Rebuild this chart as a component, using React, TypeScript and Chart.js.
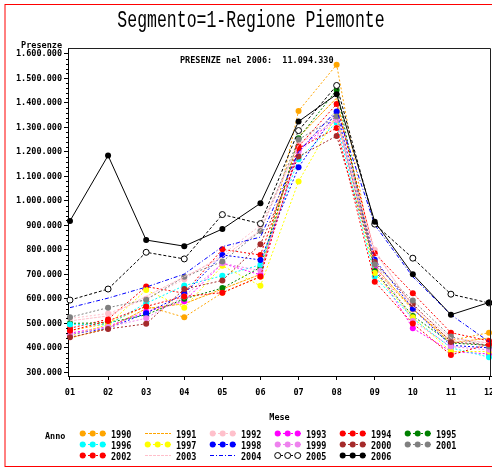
import React, { useEffect, useRef } from 'react';
import { Chart, registerables } from 'chart.js';

Chart.register(...registerables);

// ---------- data ----------
const TITLE = 'Segmento=1-Regione Piemonte';
const NOTE = 'PRESENZE nel 2006:  11.094.330';
const Y_TITLE = 'Presenze';
const X_TITLE = 'Mese';
const LEGEND_TITLE = 'Anno';

const monthNums = [1, 2, 3, 4, 5, 6, 7, 8, 9, 10, 11, 12];
const monthLabels = ['01', '02', '03', '04', '05', '06', '07', '08', '09', '10', '11', '12'];
const yTickValues = [300000, 400000, 500000, 600000, 700000, 800000, 900000, 1000000, 1100000, 1200000, 1300000, 1400000, 1500000, 1600000];

const years = ['1990', '1991', '1992', '1993', '1994', '1995', '1996', '1997', '1998', '1999', '2000', '2001', '2002', '2003', '2004', '2005', '2006'];

const s1990 = [470000, 500000, 570000, 525000, 625000, 690000, 1367000, 1556000, 720000, 556000, 430000, 462000];
const s1991 = [440000, 480000, 560000, 580000, 640000, 700000, 1260000, 1420000, 730000, 560000, 420000, 440000];
const s1992 = [520000, 540000, 600000, 680000, 780000, 900000, 1230000, 1360000, 800000, 560000, 430000, 420000];
const s1993 = [460000, 487000, 548000, 590000, 745000, 698000, 1208000, 1340000, 730000, 480000, 385000, 375000];
const s1994 = [480000, 517000, 650000, 623000, 802000, 779000, 1222000, 1395000, 786000, 623000, 462000, 428000];
const s1995 = [500000, 502000, 535000, 600000, 644000, 728000, 1256000, 1453000, 714000, 530000, 420000, 410000];
const s1996 = [495000, 494000, 582000, 654000, 694000, 739000, 1170000, 1320000, 691000, 520000, 400000, 362000];
const s1997 = [450000, 495000, 636000, 564000, 735000, 653000, 1079000, 1350000, 705000, 525000, 385000, 385000];
const s1998 = [455000, 480000, 541000, 620000, 779000, 759000, 1137000, 1365000, 760000, 560000, 410000, 400000];
const s1999 = [455000, 485000, 521000, 610000, 745000, 715000, 1200000, 1330000, 748000, 510000, 405000, 392000];
const s2000 = [443000, 477000, 498000, 640000, 675000, 823000, 1181000, 1265000, 750000, 579000, 424000, 412000];
const s2001 = [525000, 564000, 596000, 690000, 752000, 877000, 1250000, 1344000, 740000, 593000, 446000, 405000];
const s2002 = [470000, 510000, 569000, 610000, 625000, 691000, 1215000, 1297000, 670000, 499000, 371000, 415000];
const s2003 = [510000, 530000, 610000, 690000, 770000, 880000, 1230000, 1330000, 790000, 570000, 440000, 420000];
const s2004 = [564000, 603000, 648000, 701000, 813000, 852000, 1200000, 1370000, 902000, 690000, 535000, 425000];
const s2005 = [595000, 640000, 790000, 763000, 944000, 907000, 1287000, 1471000, 905000, 766000, 619000, 583000];
const s2006 = [918000, 1185000, 840000, 815000, 885000, 990000, 1324000, 1435000, 915000, 700000, 535000, 585000];

const seriesValues = [s1990, s1991, s1992, s1993, s1994, s1995, s1996, s1997, s1998, s1999, s2000, s2001, s2002, s2003, s2004, s2005, s2006];

// ---------- styles ----------
const seriesColors = ['#ffa500', '#ffa500', '#ffc0cb', '#ff00ff', '#ff0000', '#008000', '#00ffff', '#ffff00', '#0000ff', '#ee82ee', '#a52a2a', '#808080', '#ff0000', '#ffc0cb', '#0000ff', '#000000', '#000000'];
const seriesMarker = [true, false, true, true, true, true, true, true, true, true, true, true, true, false, false, true, true];
const seriesDash: number[][] = [[2, 2], [3, 1], [2, 2], [2, 2], [2, 2], [2, 2], [2, 2], [2, 2], [2, 2], [2, 2], [2, 2], [2, 2], [2, 2], [3, 1], [4, 2, 1, 2], [3, 2], []];

const MONO = '"DejaVu Sans Mono", "Liberation Mono", monospace';
const TITLE_FONT = '"Liberation Mono", "DejaVu Sans Mono", monospace';

const fmt = (v: number) => String(Math.round(v)).replace(/\B(?=(\d{3})+(?!\d))/g, '.');

const decorPlugin = {
  id: 'sasDecor',
  afterDraw(chart: any) {
    const ctx = chart.ctx as CanvasRenderingContext2D;
    const { left, top, right, bottom } = chart.chartArea;
    const yScale = chart.scales.y;
    ctx.save();

    // outer red border
    ctx.strokeStyle = '#ff0000';
    ctx.lineWidth = 1;
    ctx.beginPath();
    ctx.moveTo(5, 4.5);
    ctx.lineTo(chart.width, 4.5);
    ctx.moveTo(5, 466.5);
    ctx.lineTo(chart.width, 466.5);
    ctx.stroke();
    ctx.beginPath();
    ctx.moveTo(5, 4);
    ctx.lineTo(5, 467);
    ctx.stroke();

    // frame top/right
    ctx.strokeStyle = '#202020';
    ctx.beginPath();
    ctx.moveTo(left, top + 0.5);
    ctx.lineTo(right - 0.5, top + 0.5);
    ctx.lineTo(right - 0.5, bottom);
    ctx.stroke();

    // minor y ticks
    ctx.strokeStyle = '#000';
    ctx.beginPath();
    for (let v = yTickValues[0]; v <= yTickValues[yTickValues.length - 1]; v += 20000) {
      if (v % 100000 === 0) continue;
      const py = Math.round(yScale.getPixelForValue(v)) + 0.5;
      ctx.moveTo(left - 2, py);
      ctx.lineTo(left, py);
    }
    ctx.stroke();

    ctx.fillStyle = '#000';
    // title
    ctx.font = `16.5px ${TITLE_FONT}`;
    ctx.textAlign = 'center';
    ctx.textBaseline = 'alphabetic';
    ctx.save();
    ctx.translate(251, 27);
    ctx.scale(1, 1.4);
    ctx.fillText(TITLE, 0, 0);
    ctx.restore();

    // note
    ctx.font = `bold 8.5px ${MONO}`;
    ctx.textAlign = 'left';
    ctx.fillText(NOTE, 180, 63);

    // axis titles
    ctx.textAlign = 'right';
    ctx.fillText(Y_TITLE, 62, 48);
    ctx.textAlign = 'center';
    ctx.fillText(X_TITLE, (left + right) / 2, 420);

    // legend
    ctx.textAlign = 'left';
    ctx.fillText(LEGEND_TITLE, 45, 438.5);
    const colX = [80, 145, 210, 275, 340, 405];
    const rowY = [433.5, 444.5, 455.5];
    chart.data.datasets.forEach((ds: any, i: number) => {
      const c = i % 6;
      const r = Math.floor(i / 6);
      const x0 = colX[c];
      const y = rowY[r];
      ctx.save();
      ctx.strokeStyle = seriesColors[i];
      ctx.lineWidth = 1;
      ctx.setLineDash(seriesDash[i]);
      ctx.beginPath();
      ctx.moveTo(x0, y);
      ctx.lineTo(x0 + 26, y);
      ctx.stroke();
      ctx.setLineDash([]);
      if (seriesMarker[i]) {
        [2.7, 12.7, 22.7].forEach((dx) => {
          ctx.beginPath();
          ctx.arc(x0 + dx, y, 3, 0, Math.PI * 2);
          if (years[i] === '2005') {
            ctx.fillStyle = '#fff';
            ctx.fill();
            ctx.strokeStyle = '#000';
            ctx.stroke();
          } else {
            ctx.fillStyle = seriesColors[i];
            ctx.fill();
          }
        });
      }
      ctx.restore();
      ctx.save();
      ctx.fillStyle = '#000';
      ctx.font = `bold 8.5px ${MONO}`;
      ctx.translate(x0 + 31, y + 4.5);
      ctx.scale(1, 1.2);
      ctx.fillText(ds.label, 0, 0);
      ctx.restore();
    });

    ctx.restore();
  },
};

export default function App() {
  const ref = useRef<HTMLCanvasElement | null>(null);

  useEffect(() => {
    document.body.style.margin = '0';
    document.body.style.overflow = 'hidden';
    const canvas = ref.current;
    if (!canvas) return;

    const datasets = seriesValues.map((vals, i) => ({
      label: years[i],
      data: vals.map((v, k) => ({ x: monthNums[k], y: v })),
      borderColor: seriesColors[i],
      backgroundColor: seriesColors[i],
      borderWidth: 1,
      borderDash: seriesDash[i],
      pointRadius: seriesMarker[i] ? 3 : 0,
      pointHoverRadius: 0,
      pointStyle: 'circle',
      pointBackgroundColor: years[i] === '2005' ? '#ffffff' : seriesColors[i],
      pointBorderColor: seriesColors[i],
      pointBorderWidth: years[i] === '2005' ? 1 : 0,
      tension: 0,
      clip: false as any,
      order: seriesValues.length - i,
    }));

    const tickFont = { family: MONO, size: 8.5, weight: 'bold' as const };

    const chart = new Chart(canvas, {
      type: 'line',
      data: { datasets },
      plugins: [decorPlugin],
      options: {
        animation: false,
        responsive: false,
        events: [],
        layout: { padding: { left: 8, top: 48, right: 11, bottom: 0 } },
        plugins: { legend: { display: false }, title: { display: false }, tooltip: { enabled: false } },
        scales: {
          x: {
            type: 'linear',
            min: 0.948,
            max: 12.052,
            afterBuildTicks: (s: any) => {
              s.ticks = monthNums.map((v) => ({ value: v }));
            },
            afterFit: (s: any) => {
              s.paddingLeft = 0;
              s.paddingRight = 0;
              s.height = 94;
            },
            ticks: {
              callback: (v: any) => monthLabels[Number(v) - 1],
              font: tickFont,
              color: '#000',
              padding: 8,
              autoSkip: false,
              maxRotation: 0,
            },
            grid: { drawOnChartArea: false, drawTicks: true, tickLength: 4, color: '#000' },
            border: { display: true, color: '#000' },
          },
          y: {
            type: 'linear',
            min: 285000,
            max: 1624000,
            afterBuildTicks: (s: any) => {
              s.ticks = yTickValues.map((v) => ({ value: v }));
            },
            afterFit: (s: any) => {
              s.width = 60;
              s.paddingTop = 0;
              s.paddingBottom = 0;
            },
            ticks: {
              callback: (v: any) => fmt(Number(v)),
              font: tickFont,
              color: '#000',
              padding: 2,
              autoSkip: false,
            },
            grid: { drawOnChartArea: false, drawTicks: true, tickLength: 4, color: '#000' },
            border: { display: true, color: '#000' },
          },
        },
      },
    });

    return () => chart.destroy();
  }, []);

  return <canvas ref={ref} width={502} height={470} style={{ display: 'block' }} />;
}
